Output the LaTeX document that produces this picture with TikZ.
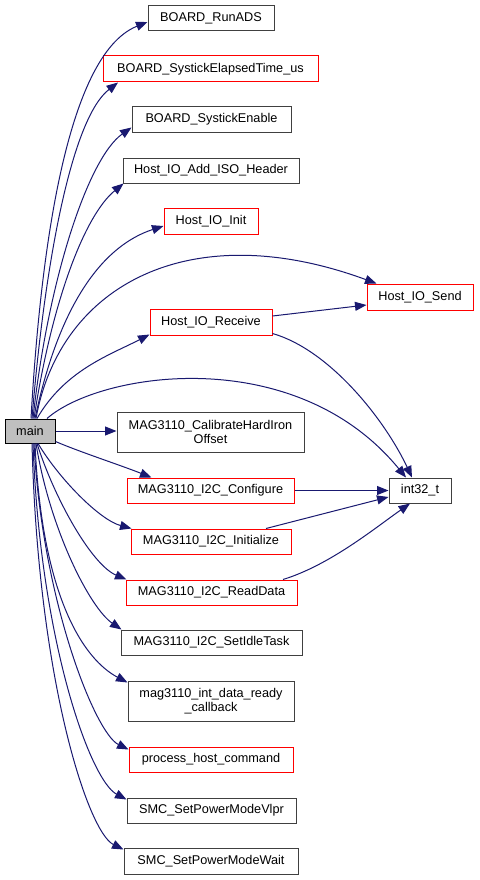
\documentclass[tikz,border=0pt]{standalone}
\usepackage{fontspec}
\setmainfont{Liberation Sans}
\usetikzlibrary{arrows.meta,calc}
\definecolor{edgec}{HTML}{191970}
\definecolor{boxgray}{HTML}{404040}
\definecolor{mainfill}{HTML}{BFBFBF}
\begin{document}
\begin{tikzpicture}[x=1pt,y=-1pt,
  every node/.style={font=\fontsize{12.7}{14.5}\selectfont},
  fn/.style={draw=boxgray, line width=1pt, inner sep=0pt, align=center},
  rn/.style={fn, draw=red},
  mn/.style={fn, draw=black, fill=mainfill},
  e/.style={draw=edgec, line width=1pt, -{Triangle[length=11.5pt,width=9pt]}}]
\useasboundingbox[fill=white] (0,0) rectangle (479,880);

\node[mn, minimum width=50pt, minimum height=24pt] (main) at (30,431) {main};
\node[fn, minimum width=126pt, minimum height=25pt] (runads) at (211,18.5) {BOARD\_RunADS};
\node[rn, minimum width=215pt, minimum height=26pt] (elapsed) at (210.5,69) {BOARD\_SystickElapsedTime\_us};
\node[fn, minimum width=159pt, minimum height=25pt] (systick) at (211.5,119.5) {BOARD\_SystickEnable};
\node[fn, minimum width=176pt, minimum height=25pt] (addiso) at (211,170.5) {Host\_IO\_Add\_ISO\_Header};
\node[rn, minimum width=94pt, minimum height=26pt] (init) at (211,221) {Host\_IO\_Init};
\node[rn, minimum width=106pt, minimum height=26pt] (send) at (420,297) {Host\_IO\_Send};
\node[rn, minimum width=122pt, minimum height=26pt] (receive) at (211,322) {Host\_IO\_Receive};
\node[fn, minimum width=187pt, minimum height=40pt] (calib) at (210.5,432) {MAG3110\_CalibrateHardIron\\Offset};
\node[rn, minimum width=167pt, minimum height=25pt] (config) at (210.5,490.5) {MAG3110\_I2C\_Configure};
\node[fn, minimum width=62pt, minimum height=25pt] (int) at (420,490.5) {int32\_t};
\node[rn, minimum width=160pt, minimum height=25pt] (initialize) at (211,541.5) {MAG3110\_I2C\_Initialize};
\node[rn, minimum width=171pt, minimum height=25pt] (readdata) at (211.5,592.5) {MAG3110\_I2C\_ReadData};
\node[fn, minimum width=181pt, minimum height=25pt] (setidle) at (211.5,642.5) {MAG3110\_I2C\_SetIdleTask};
\node[fn, minimum width=166pt, minimum height=40pt] (magint) at (211,701) {mag3110\_int\_data\_ready\\\_callback};
\node[rn, minimum width=164pt, minimum height=25pt] (process) at (211,759.5) {process\_host\_command};
\node[fn, minimum width=169pt, minimum height=25pt] (vlpr) at (211.5,810.5) {SMC\_SetPowerModeVlpr};
\node[fn, minimum width=174pt, minimum height=26pt] (wait) at (211,861) {SMC\_SetPowerModeWait};

% upper edges from main
\draw[e] ([xshift=1pt]main.north) .. controls (40,260) and (65,55) .. ([yshift=-3.5pt]runads.west);
\draw[e] ([xshift=2pt]main.north) .. controls (45,260) and (72,118) .. ([xshift=-92.5pt]elapsed.south);
\draw[e] ([xshift=3pt]main.north) .. controls (48,280) and (88,158) .. ([yshift=-8pt]systick.west);
\draw[e] ([xshift=4pt]main.north) .. controls (52,300) and (85,215) .. ([xshift=1pt]addiso.south west);
\draw[e] ([xshift=5pt]main.north) .. controls (60,300) and (105,245) .. ([yshift=-5pt]init.west);
\draw[e] ([xshift=6pt]main.north) .. controls (60,285) and (190,215) .. ([xshift=10pt]send.north west);
\draw[e] ([xshift=7pt]main.north) .. controls (65,370) and (110,355) .. ([yshift=1pt]receive.south west);
\draw[e] ([xshift=17pt]main.north) .. controls (100,372) and (295,342) .. ([xshift=-14pt]int.north);
\draw[e] (main.east) -- (main.east -| calib.west);
% lower edges from main
\draw[e] ([yshift=2pt]main.south east) .. controls (80,452) and (120,465) .. ([xshift=25pt]config.north west);
\draw[e] ([xshift=8pt]main.south) .. controls (60,480) and (100,520) .. ([xshift=1pt]initialize.north west);
\draw[e] ([xshift=7pt]main.south) .. controls (55,500) and (92,565) .. ([xshift=1pt]readdata.north west);
\draw[e] ([xshift=6pt]main.south) .. controls (50,530) and (90,608) .. ([xshift=1pt]setidle.north west);
\draw[e] ([xshift=5pt]main.south) .. controls (42,600) and (85,660) .. ([yshift=-2pt]magint.north west);
\draw[e] ([xshift=4pt]main.south) .. controls (42,600) and (95,733) .. ([yshift=-3pt]process.north west);
\draw[e] ([xshift=3pt]main.south) .. controls (40,640) and (90,780) .. ([yshift=-2pt]vlpr.north west);
\draw[e] ([xshift=2pt]main.south) .. controls (38,680) and (88,832) .. ([yshift=-2pt]wait.north west);
% other edges
\draw[e] ([yshift=6pt]receive.east) -- ([yshift=-8pt]send.west);
\draw[e] ([yshift=2pt]receive.south east) .. controls (330,350) and (385,420) .. ([xshift=-8pt]int.north);
\draw[e] (config.east) -- (int.west);
\draw[e] ([xshift=55pt]initialize.north) -- ([yshift=-6.5pt]int.west);
\draw[e] ([xshift=71.5pt]readdata.north) .. controls (330,565) and (375,528) .. ([xshift=-10pt]int.south);
\end{tikzpicture}
\end{document}
